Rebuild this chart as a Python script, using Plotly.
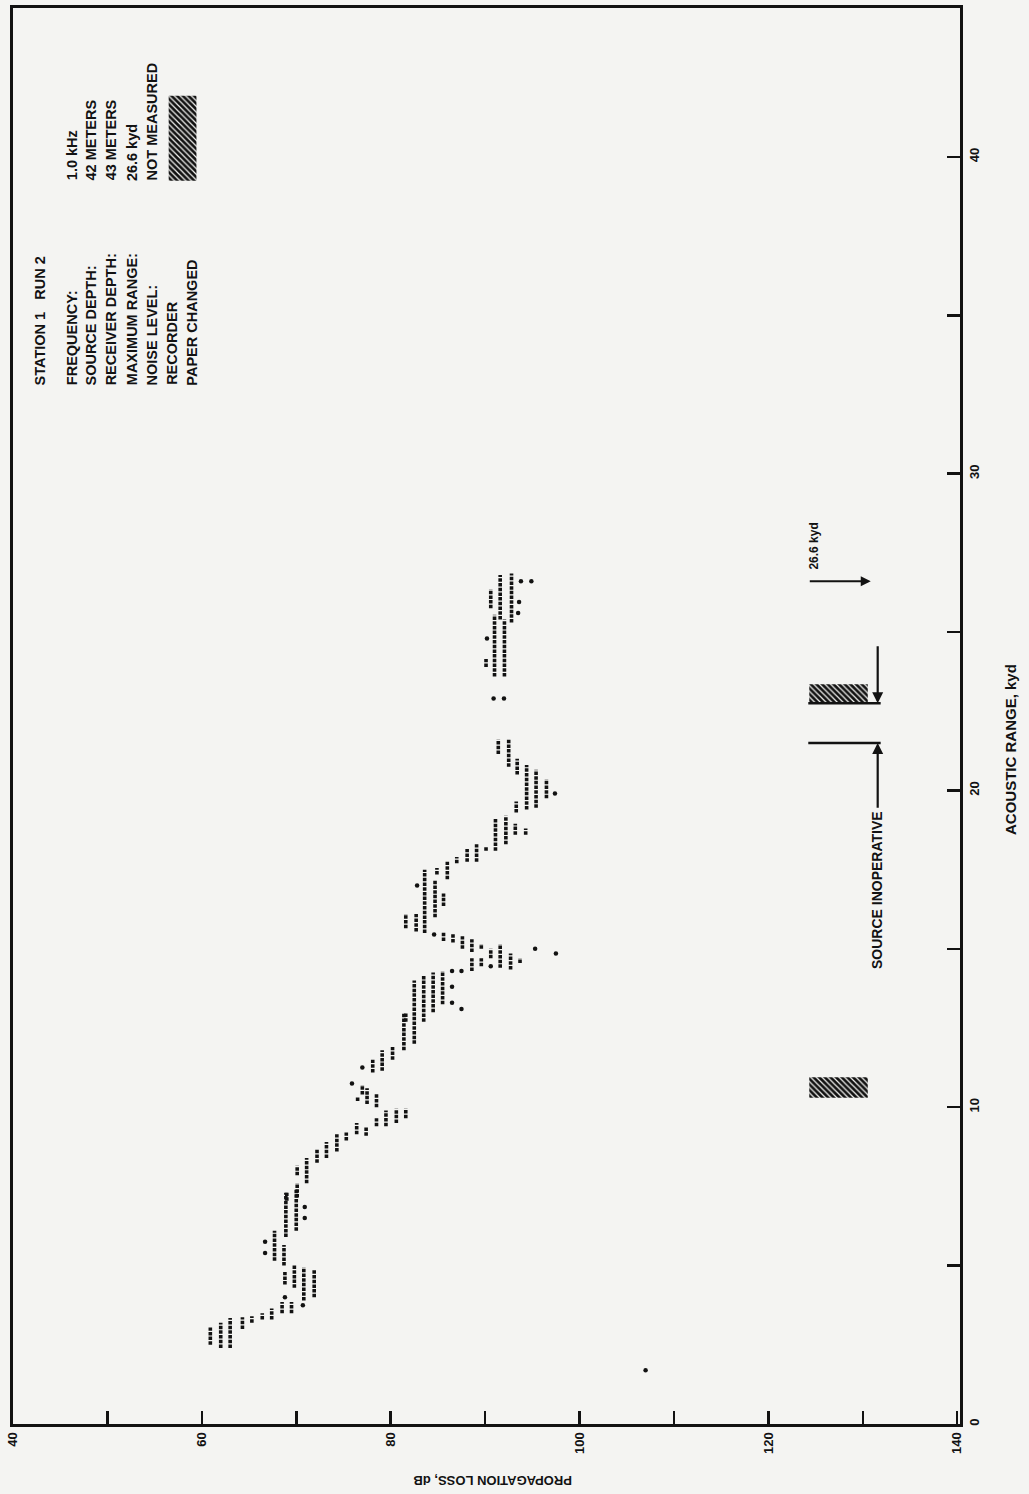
import plotly.graph_objects as go

# ---------------- data ----------------
# recorder strokes: propagation loss (dB) and the range span (kyd) of each stroke
stroke_loss = [60.9, 62.0, 63.0, 64.3, 65.3, 66.4, 67.4, 68.5, 69.5,
               68.8, 69.8, 70.8, 71.9, 68.7, 67.7, 68.9, 70.0,
               69.0, 70.1, 70.1, 71.1, 72.2, 73.2, 74.3, 75.3, 76.4, 77.4, 78.5, 79.5, 80.6, 81.6,
               77.0, 77.5, 76.5, 78.5, 78.1, 79.1, 80.2, 81.4, 82.5, 81.6, 83.5, 84.5, 85.5,
               85.6, 86.6, 87.6, 88.6, 89.6, 90.6, 91.6, 92.7, 93.7, 88.6, 89.6,
               81.6, 82.7, 83.6, 84.7, 85.6, 84.9, 86.0, 87.0, 88.1, 89.1, 90.1,
               91.1, 92.2, 93.2, 94.3, 93.3, 94.4, 95.4, 96.5,
               91.4, 92.5, 93.4, 91.0, 91.6, 92.05, 92.8, 90.6, 90.1]
stroke_range_start = [2.5, 2.4, 2.4, 3.0, 3.2, 3.3, 3.3, 3.5, 3.5,
                      4.4, 4.3, 3.9, 4.0, 5.0, 5.15, 5.9, 6.1,
                      7.05, 7.15, 7.85, 7.6, 8.25, 8.4, 8.6, 8.95, 9.15, 9.1, 9.4, 9.4, 9.5, 9.65,
                      10.4, 10.1, 10.2, 10.0, 11.1, 11.15, 11.5, 11.8, 12.0, 12.7, 12.7, 13.0, 13.25,
                      15.25, 15.2, 15.0, 14.9, 15.0, 14.7, 14.4, 14.35, 14.55, 14.3, 14.45,
                      15.65, 15.55, 15.5, 16.0, 16.35, 17.35, 17.2, 17.7, 17.75, 17.75, 18.1,
                      18.1, 18.3, 18.6, 18.6, 19.3, 19.4, 19.45, 19.75,
                      21.15, 20.75, 20.5, 23.6, 25.4, 23.6, 25.3, 25.75, 23.9]
stroke_range_end = [3.05, 3.2, 3.35, 3.37, 3.4, 3.5, 3.65, 3.85, 3.85,
                    4.8, 5.0, 4.95, 4.85, 5.65, 6.1, 7.3, 7.4,
                    7.3, 7.6, 8.15, 8.4, 8.7, 8.9, 9.15, 9.2, 9.5, 9.4, 9.65, 9.9, 9.95, 9.95,
                    10.7, 10.6, 10.35, 10.45, 11.5, 11.8, 11.9, 12.95, 14.0, 13.0, 14.15, 14.25, 14.3,
                    15.55, 15.5, 15.4, 15.3, 15.15, 15.0, 15.15, 14.85, 14.7, 14.7, 14.7,
                    16.1, 16.1, 17.5, 17.15, 16.75, 17.55, 17.75, 17.9, 18.15, 18.3, 18.25,
                    19.1, 19.2, 18.95, 18.8, 19.65, 20.8, 20.65, 20.35,
                    21.6, 21.6, 21.0, 25.55, 26.8, 25.4, 26.85, 26.35, 24.15]

# isolated recorder dots
dot_loss = [66.7, 66.7, 70.9, 70.9, 68.8, 70.7, 75.9, 77.0,
            86.5, 86.5, 86.5, 87.5, 87.5, 84.6, 95.3, 97.5, 90.6,
            82.8, 97.4, 90.9, 92.0, 93.8, 94.9, 93.6, 93.5, 90.2, 107.0]
dot_range = [5.4, 5.75, 6.5, 6.85, 4.0, 3.75, 10.75, 11.25,
             14.3, 13.8, 13.3, 13.1, 14.3, 15.45, 15.0, 14.85, 14.45,
             17.0, 19.9, 22.9, 22.9, 26.6, 26.6, 25.95, 25.6, 24.8, 1.7]

# events
paper_changed_start = [10.3, 22.75]
paper_changed_end = [10.95, 23.35]
source_inoperative_start = 21.5
source_inoperative_end = 22.75
maximum_range = 26.6

# axes
loss_ticks = [40, 50, 60, 70, 80, 90, 100, 110, 120, 130, 140]
loss_tick_text = ["40", "", "60", "", "80", "", "100", "", "120", "", "140"]
range_ticks = [0, 5, 10, 15, 20, 25, 30, 35, 40]
range_tick_text = ["0", "", "10", "", "20", "", "30", "", "40"]

info_labels = ["FREQUENCY:", "SOURCE DEPTH:", "RECEIVER DEPTH:", "MAXIMUM RANGE:",
               "NOISE LEVEL:", "RECORDER", "PAPER CHANGED"]
info_values = ["1.0 kHz", "42 METERS", "43 METERS", "26.6 kyd", "NOT MEASURED"]
info_title = "STATION 1   RUN 2"

# ---------------- layout geometry ----------------
W, H = 1029, 1494
PL, PR, PT, PB = 5, 960, 5, 1424
X_RANGE = [40, 140.3]
Y_RANGE = [0, 44.7]
INK = "#121212"
BG = "#f4f4f2"
FONT = "Liberation Sans"


def fx(px):
    return (px - PL) / (PR - PL)


def fy(py):
    return (PB - py) / (PB - PT)


def loss_at(px):
    return X_RANGE[0] + (px - PL) / (PR - PL) * (X_RANGE[1] - X_RANGE[0])


def range_at(py):
    return Y_RANGE[0] + (PB - py) / (PB - PT) * (Y_RANGE[1] - Y_RANGE[0])


fig = go.Figure()

# strokes as one trace separated by None
sx, sy = [], []
for L, r0, r1 in zip(stroke_loss, stroke_range_start, stroke_range_end):
    sx += [L, L, None]
    sy += [r0, r1, None]
fig.add_trace(go.Scatter(x=sx, y=sy, mode="lines",
                         line=dict(color=INK, width=3.6, dash="3.5px,1.2px"),
                         hoverinfo="skip", showlegend=False))
fig.add_trace(go.Scatter(x=dot_loss, y=dot_range, mode="markers",
                         marker=dict(color=INK, size=4.5, symbol="circle"),
                         hoverinfo="skip", showlegend=False))

# hatched "recorder paper changed" boxes (dark box with light diagonal gaps)
box_l0, box_l1 = loss_at(808), loss_at(867)
centers = [(a + b) / 2 for a, b in zip(paper_changed_start, paper_changed_end)]
widths = [b - a for a, b in zip(paper_changed_start, paper_changed_end)]
pattern = dict(shape="\\", fgcolor=BG, bgcolor=INK, size=4, solidity=0.3,
               fillmode="replace")
fig.add_trace(go.Bar(orientation="h", y=centers, x=[box_l1 - box_l0] * len(centers),
                     base=[box_l0] * len(centers), width=widths,
                     marker=dict(color=INK, line=dict(width=0), pattern=pattern),
                     hoverinfo="skip", showlegend=False))
# legend swatch
sw_l0, sw_l1 = loss_at(162), loss_at(190)
sw_r0, sw_r1 = range_at(178), range_at(93)
fig.add_trace(go.Bar(orientation="h", y=[(sw_r0 + sw_r1) / 2], x=[sw_l1 - sw_l0], base=[sw_l0],
                     width=[sw_r1 - sw_r0],
                     marker=dict(color=INK, line=dict(width=0), pattern=pattern),
                     hoverinfo="skip", showlegend=False))

shapes = []
annotations = []
line_l0, line_l1 = loss_at(807), loss_at(880)
arrow_l = loss_at(877)
# source inoperative bounds
for r in [source_inoperative_start, source_inoperative_end]:
    shapes.append(dict(type="line", xref="x", yref="y", x0=line_l0, x1=line_l1, y0=r, y1=r,
                       line=dict(color=INK, width=2.5)))
text_top = range_at(808)
annotations.append(dict(x=arrow_l, y=source_inoperative_start, ax=arrow_l, ay=text_top,
                        xref="x", yref="y", axref="x", ayref="y", showarrow=True,
                        arrowhead=2, arrowsize=1, arrowwidth=2.2, arrowcolor=INK, text=""))
annotations.append(dict(x=arrow_l, y=source_inoperative_end, ax=arrow_l,
                        ay=source_inoperative_end + 1.85,
                        xref="x", yref="y", axref="x", ayref="y", showarrow=True,
                        arrowhead=2, arrowsize=1, arrowwidth=2.2, arrowcolor=INK, text=""))
annotations.append(dict(x=arrow_l, y=text_top, xref="x", yref="y", text="SOURCE INOPERATIVE",
                        textangle=-90, showarrow=False, xanchor="center", yanchor="top",
                        font=dict(size=14, color=INK, family=FONT, weight="bold")))
# maximum range arrow
annotations.append(dict(x=loss_at(870), y=maximum_range, ax=loss_at(807), ay=maximum_range,
                        xref="x", yref="y", axref="x", ayref="y", showarrow=True,
                        arrowhead=2, arrowsize=1, arrowwidth=2, arrowcolor=INK, text=""))
annotations.append(dict(x=loss_at(813), y=maximum_range + 0.3, xref="x", yref="y",
                        text="26.6 kyd", textangle=-90, showarrow=False,
                        xanchor="center", yanchor="bottom",
                        font=dict(size=12, color=INK, family=FONT, weight="bold")))


# info block
def info(text, px, py_bottom, size=14.5):
    annotations.append(dict(x=fx(px), y=fy(py_bottom), xref="paper", yref="paper", text=text,
                            textangle=-90, showarrow=False, xanchor="center", yanchor="bottom",
                            font=dict(size=size, color=INK, family=FONT, weight="bold")))


info(info_title, 32, 385)
label_x = [64, 84, 104, 125, 145, 166, 186]
for t, px in zip(info_labels, label_x):
    info(t, px, 385)
for t, px in zip(info_values, label_x):
    info(t, px, 180)

# axis titles
annotations.append(dict(x=fx(1011), y=fy(748), xref="paper", yref="paper",
                        text="ACOUSTIC RANGE, kyd", textangle=-90, showarrow=False,
                        xanchor="center", yanchor="middle",
                        font=dict(size=15, color=INK, family=FONT, weight="bold")))
annotations.append(dict(x=fx(489), y=fy(1480), xref="paper", yref="paper",
                        text="PROPAGATION LOSS, dB", textangle=180, showarrow=False,
                        xanchor="center", yanchor="middle",
                        font=dict(size=13, color=INK, family=FONT, weight="bold")))

fig.update_layout(
    width=W, height=H,
    margin=dict(l=PL, r=W - PR, t=PT, b=H - PB, pad=0),
    paper_bgcolor=BG, plot_bgcolor=BG,
    showlegend=False, hovermode=False,
    font=dict(family=FONT, color=INK, size=13),
    shapes=shapes, annotations=annotations,
    barmode="overlay",
    xaxis=dict(range=X_RANGE, tickmode="array", tickvals=loss_ticks, ticktext=loss_tick_text,
               ticks="inside", ticklen=13, tickwidth=2.5, tickcolor=INK,
               showline=True, linewidth=3, linecolor=INK, mirror=True,
               showgrid=False, zeroline=False, tickangle=-90,
               tickfont=dict(size=13, family=FONT, color=INK, weight="bold")),
    yaxis=dict(range=Y_RANGE, side="right", tickmode="array", tickvals=range_ticks,
               ticktext=range_tick_text,
               ticks="inside", ticklen=13, tickwidth=2.5, tickcolor=INK,
               showline=True, linewidth=3, linecolor=INK, mirror=True,
               showgrid=False, zeroline=False, tickangle=-90,
               tickfont=dict(size=13, family=FONT, color=INK, weight="bold")),
)

fig.write_html("out.html",
               config={"displayModeBar": False, "staticPlot": True},
               post_script="document.body.style.margin='0';document.body.style.overflow='hidden';")
